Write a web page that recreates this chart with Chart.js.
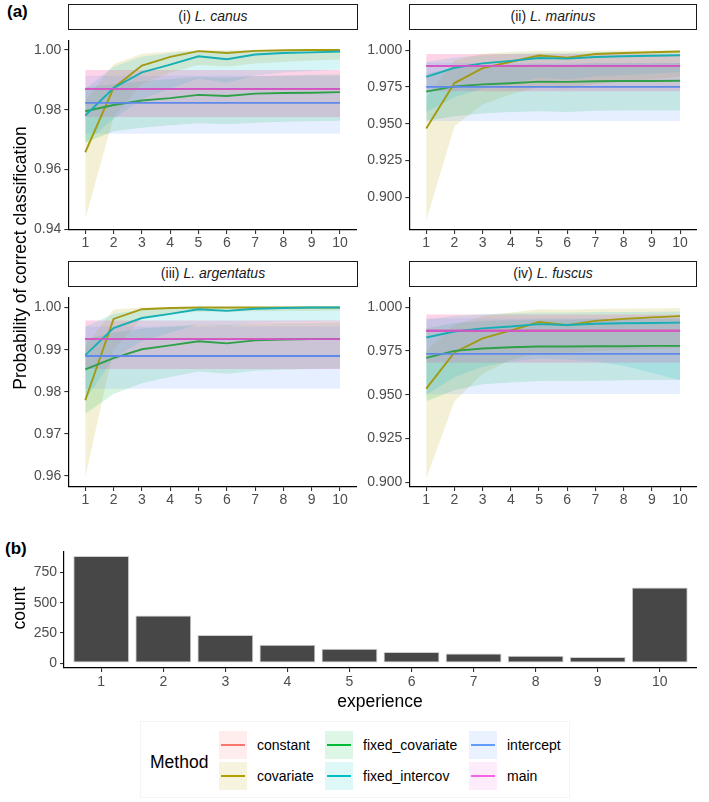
<!DOCTYPE html>
<html>
<head>
<meta charset="utf-8">
<script src="https://cdn.jsdelivr.net/npm/chart.js@4.4.0/dist/chart.umd.min.js"></script>
<style>
  body { margin: 0; background: #fff; font-family: "Liberation Sans", Arial, sans-serif; }
  #fig { position: relative; width: 709px; height: 802px; overflow: hidden; background: #fff; }
  canvas { position: absolute; }
  .txt { position: absolute; white-space: nowrap; color: #000; }
  .strip { position: absolute; box-sizing: border-box; border: 1.3px solid #1a1a1a; background: #fff;
           font-size: 14px; color: #1a1a1a; text-align: center; line-height: 23px; }
  .tag { position: absolute; font-weight: bold; font-size: 17px; }
  .rot { transform: translate(-50%, -50%) rotate(-90deg); font-size: 17.5px; }
  #legend { position: absolute; left: 140px; top: 721px; width: 430px; height: 77px;
            background: #fff; border: 1px solid #f4f4f4; box-sizing: border-box; }
  .key { position: absolute; width: 28px; height: 28px; }
  .key i { position: absolute; left: 2px; right: 2px; top: 13px; height: 2px; }
  .lab { position: absolute; font-size: 14px; color: #000; line-height: 16px; }
</style>
</head>
<body>
<div id="fig">
  <div class="tag" style="left:7px;top:2px;">(a)</div>
  <div class="tag" style="left:5px;top:539px;">(b)</div>

  <div class="strip" style="left:68px;top:4px;width:290px;height:26px;">(i) <i>L. canus</i></div>
  <div class="strip" style="left:409px;top:4px;width:288px;height:26px;">(ii) <i>L. marinus</i></div>
  <div class="strip" style="left:68px;top:261px;width:290px;height:26px;">(iii) <i>L. argentatus</i></div>
  <div class="strip" style="left:409px;top:261px;width:288px;height:26px;">(iv) <i>L. fuscus</i></div>

  <canvas id="p1" width="343" height="227" style="left:14px;top:29px;"></canvas>
  <canvas id="p2" width="342" height="227" style="left:355px;top:29px;"></canvas>
  <canvas id="p3" width="343" height="227" style="left:14px;top:286px;"></canvas>
  <canvas id="p4" width="342" height="227" style="left:355px;top:286px;"></canvas>
  <canvas id="bars" width="697" height="152" style="left:0px;top:540px;"></canvas>

  <div class="txt rot" style="left:20px;top:258px;">Probability of correct classification</div>
  <div class="txt rot" style="left:19px;top:608px;">count</div>
  <div class="txt" style="left:380px;top:701px;transform:translate(-50%,-50%);font-size:17.5px;">experience</div>

  <div id="legend"></div>
</div>

<script>
// x categories and methods
const experience = [1, 2, 3, 4, 5, 6, 7, 8, 9, 10];
const methods = ["constant", "covariate", "fixed_covariate", "fixed_intercov", "intercept", "main"];
const methodColors = ["#F8766D", "#B79F00", "#00BA38", "#00BFC4", "#619CFF", "#F564E3"];
// lines inside the panels read a little darker than the legend keys
const panelLineColors = ["#E0675F", "#A39A12", "#2FA048", "#17AEB4", "#5E88EA", "#D253CC"];

// tick labels
const ticksCanus = [0.94, 0.96, 0.98, 1.00];
const ticksMarinus = [0.900, 0.925, 0.950, 0.975, 1.000];
const ticksArgentatus = [0.96, 0.97, 0.98, 0.99, 1.00];
const ticksFuscus = [0.900, 0.925, 0.950, 0.975, 1.000];
const countTicks = [0, 250, 500, 750];

// (b) number of birds per experience level
const counts = [886, 395, 232, 152, 120, 93, 80, 61, 50, 625];

// flat models: [estimate, lower, upper]
const canusConstant = [0.9870, 0.9776, 0.9933];
const canusIntercept = [0.9823, 0.9720, 0.9914];
const canusMain = [0.9870, 0.9776, 0.9933];
const marinusConstant = [0.9893, 0.9720, 0.9974];
const marinusIntercept = [0.9750, 0.9519, 0.9915];
const marinusMain = [0.9893, 0.9720, 0.9974];
const argentatusConstant = [0.9925, 0.9854, 0.9969];
const argentatusIntercept = [0.9885, 0.9807, 0.9955];
const argentatusMain = [0.9925, 0.9854, 0.9969];
const fuscusConstant = [0.9865, 0.9683, 0.9958];
const fuscusIntercept = [0.9733, 0.9503, 0.9935];
const fuscusMain = [0.9865, 0.9683, 0.9958];

// (i) L. canus
const canusCov   = [0.9658, 0.9873, 0.9948, 0.9977, 0.9996, 0.9990, 0.9997, 0.9999, 1.0000, 1.0000];
const canusCovLo = [0.9435, 0.9775, 0.9885, 0.9925, 0.9950, 0.9945, 0.9955, 0.9960, 0.9965, 0.9968];
const canusCovHi = [0.9830, 0.9952, 0.9987, 0.9995, 1.0000, 0.9999, 1.0000, 1.0000, 1.0000, 1.0000];
const canusFixCov   = [0.9795, 0.9816, 0.9831, 0.9839, 0.9850, 0.9846, 0.9854, 0.9856, 0.9857, 0.9859];
const canusFixCovLo = [0.9690, 0.9728, 0.9740, 0.9748, 0.9755, 0.9752, 0.9757, 0.9760, 0.9762, 0.9763];
const canusFixCovHi = [0.9875, 0.9885, 0.9895, 0.9903, 0.9910, 0.9907, 0.9912, 0.9915, 0.9917, 0.9918];
const canusFixInt   = [0.9781, 0.9873, 0.9925, 0.9951, 0.9979, 0.9969, 0.9985, 0.9990, 0.9992, 0.9995];
const canusFixIntLo = [0.9690, 0.9770, 0.9835, 0.9870, 0.9905, 0.9890, 0.9915, 0.9925, 0.9930, 0.9935];
const canusFixIntHi = [0.9870, 0.9945, 0.9978, 0.9990, 0.9998, 0.9996, 0.9999, 1.0000, 1.0000, 1.0000];

// (ii) L. marinus
const marinusCov   = [0.9468, 0.9776, 0.9878, 0.9921, 0.9963, 0.9949, 0.9974, 0.9980, 0.9985, 0.9991];
const marinusCovLo = [0.8842, 0.9483, 0.9630, 0.9700, 0.9750, 0.9740, 0.9770, 0.9790, 0.9800, 0.9820];
const marinusCovHi = [0.9680, 0.9930, 0.9975, 0.9988, 0.9995, 0.9993, 0.9996, 0.9997, 0.9998, 0.9999];
const marinusFixCov   = [0.9718, 0.9754, 0.9767, 0.9775, 0.9786, 0.9784, 0.9788, 0.9790, 0.9790, 0.9792];
const marinusFixCovLo = [0.9520, 0.9550, 0.9570, 0.9580, 0.9585, 0.9580, 0.9588, 0.9590, 0.9590, 0.9590];
const marinusFixCovHi = [0.9840, 0.9880, 0.9890, 0.9900, 0.9905, 0.9900, 0.9910, 0.9910, 0.9910, 0.9912];
const marinusFixInt   = [0.9818, 0.9880, 0.9910, 0.9927, 0.9946, 0.9942, 0.9953, 0.9958, 0.9962, 0.9965];
const marinusFixIntLo = [0.9580, 0.9680, 0.9740, 0.9770, 0.9810, 0.9800, 0.9820, 0.9830, 0.9840, 0.9850];
const marinusFixIntHi = [0.9920, 0.9950, 0.9965, 0.9975, 0.9980, 0.9980, 0.9985, 0.9987, 0.9988, 0.9990];

// (iii) L. argentatus
const argentatusCov   = [0.9780, 0.9973, 0.9996, 0.9999, 1.0000, 1.0000, 1.0000, 1.0000, 1.0000, 1.0000];
const argentatusCovLo = [0.9598, 0.9900, 0.9975, 0.9985, 0.9990, 0.9990, 0.9991, 0.9992, 0.9992, 0.9993];
const argentatusCovHi = [0.9910, 0.9995, 1.0000, 1.0000, 1.0000, 1.0000, 1.0000, 1.0000, 1.0000, 1.0000];
const argentatusFixCov   = [0.9853, 0.9880, 0.9901, 0.9910, 0.9920, 0.9915, 0.9922, 0.9924, 0.9925, 0.9925];
const argentatusFixCovLo = [0.9748, 0.9795, 0.9820, 0.9835, 0.9848, 0.9843, 0.9850, 0.9852, 0.9854, 0.9855];
const argentatusFixCovHi = [0.9925, 0.9940, 0.9950, 0.9955, 0.9960, 0.9958, 0.9962, 0.9963, 0.9964, 0.9965];
const argentatusFixInt   = [0.9887, 0.9951, 0.9975, 0.9985, 0.9996, 0.9992, 0.9997, 0.9999, 1.0000, 1.0000];
const argentatusFixIntLo = [0.9780, 0.9880, 0.9920, 0.9940, 0.9960, 0.9955, 0.9963, 0.9965, 0.9966, 0.9967];
const argentatusFixIntHi = [0.9955, 0.9985, 0.9995, 0.9998, 1.0000, 1.0000, 1.0000, 1.0000, 1.0000, 1.0000];

// (iv) L. fuscus
const fuscusCov   = [0.9534, 0.9741, 0.9822, 0.9867, 0.9915, 0.9897, 0.9922, 0.9933, 0.9942, 0.9949];
const fuscusCovLo = [0.9020, 0.9462, 0.9620, 0.9700, 0.9740, 0.9740, 0.9750, 0.9755, 0.9760, 0.9765];
const fuscusCovHi = [0.9750, 0.9900, 0.9950, 0.9970, 0.9988, 0.9985, 0.9990, 0.9992, 0.9993, 0.9995];
const fuscusFixCov   = [0.9710, 0.9750, 0.9764, 0.9771, 0.9775, 0.9775, 0.9777, 0.9777, 0.9779, 0.9779];
const fuscusFixCovLo = [0.9462, 0.9525, 0.9560, 0.9570, 0.9578, 0.9578, 0.9580, 0.9582, 0.9584, 0.9585];
const fuscusFixCovHi = [0.9880, 0.9910, 0.9920, 0.9925, 0.9930, 0.9930, 0.9932, 0.9933, 0.9934, 0.9935];
const fuscusFixInt   = [0.9827, 0.9861, 0.9879, 0.9890, 0.9903, 0.9898, 0.9905, 0.9908, 0.9910, 0.9912];
const fuscusFixIntLo = [0.9500, 0.9600, 0.9660, 0.9690, 0.9705, 0.9700, 0.9690, 0.9665, 0.9625, 0.9583];
const fuscusFixIntHi = [0.9930, 0.9950, 0.9960, 0.9965, 0.9970, 0.9970, 0.9972, 0.9973, 0.9974, 0.9975];

Chart.defaults.font.family = '"Liberation Sans", Arial, sans-serif';
Chart.defaults.font.size = 14;
Chart.defaults.color = "#4D4D4D";

function rgba(hex, a) {
  const n = parseInt(hex.slice(1), 16);
  return `rgba(${n >> 16}, ${(n >> 8) & 255}, ${n & 255}, ${a})`;
}
function pts(arr) { return experience.map((x, i) => ({ x, y: arr[i] })); }
function flat(m) {
  return {
    line: experience.map(() => m[0]),
    lo: experience.map(() => m[1]),
    hi: experience.map(() => m[2])
  };
}

function axisStyle(extra) {
  return Object.assign({
    grid: { drawOnChartArea: false, drawTicks: true, tickLength: 4, color: "#333333", lineWidth: 1.1, offset: false },
    border: { display: true, color: "#000000", width: 1.2 }
  }, extra);
}

function drawPanel(id, series, yMin, yMax, yTicks, decimals, yw) {
  const datasets = [];
  series.forEach((s, i) => {
    const loIdx = datasets.length;
    datasets.push({ data: pts(s.lo), borderColor: "rgba(0,0,0,0)", borderWidth: 1, pointRadius: 0, fill: false, order: 100 - i });
    datasets.push({ data: pts(s.hi), borderColor: "rgba(0,0,0,0)", borderWidth: 1, pointRadius: 0,
                    fill: loIdx, backgroundColor: rgba(methodColors[i], 0.16), order: 100 - i });
  });
  series.forEach((s, i) => {
    datasets.push({ data: pts(s.line), borderColor: panelLineColors[i], borderWidth: 1.9, pointRadius: 0,
                    fill: false, tension: 0, order: 50 - i });
  });

  new Chart(document.getElementById(id), {
    type: "line",
    data: { datasets },
    options: {
      responsive: false,
      animation: false,
      layout: { padding: 0 },
      plugins: { legend: { display: false }, tooltip: { enabled: false } },
      scales: {
        x: axisStyle({
          type: "linear", min: 0.4, max: 10.6,
          afterBuildTicks: s => { s.ticks = experience.map(v => ({ value: v })); },
          afterFit: s => { s.height = 26; },
          ticks: { padding: 1, callback: v => String(v) }
        }),
        y: axisStyle({
          type: "linear", min: yMin, max: yMax,
          afterBuildTicks: s => { s.ticks = yTicks.map(v => ({ value: v })); },
          afterFit: s => { s.width = yw; },
          ticks: { padding: 3, callback: v => v.toFixed(decimals) }
        })
      }
    }
  });
}

drawPanel("p1", [flat(canusConstant),
  { line: canusCov, lo: canusCovLo, hi: canusCovHi },
  { line: canusFixCov, lo: canusFixCovLo, hi: canusFixCovHi },
  { line: canusFixInt, lo: canusFixIntLo, hi: canusFixIntHi },
  flat(canusIntercept), flat(canusMain)], 0.9398, 1.0032, ticksCanus, 2, 54.3);

drawPanel("p2", [flat(marinusConstant),
  { line: marinusCov, lo: marinusCovLo, hi: marinusCovHi },
  { line: marinusFixCov, lo: marinusFixCovLo, hi: marinusFixCovHi },
  { line: marinusFixInt, lo: marinusFixIntLo, hi: marinusFixIntHi },
  flat(marinusIntercept), flat(marinusMain)], 0.8778, 1.0066, ticksMarinus, 3, 54.3);

drawPanel("p3", [flat(argentatusConstant),
  { line: argentatusCov, lo: argentatusCovLo, hi: argentatusCovHi },
  { line: argentatusFixCov, lo: argentatusFixCovLo, hi: argentatusFixCovHi },
  { line: argentatusFixInt, lo: argentatusFixIntLo, hi: argentatusFixIntHi },
  flat(argentatusIntercept), flat(argentatusMain)], 0.9574, 1.0024, ticksArgentatus, 2, 54.3);

drawPanel("p4", [flat(fuscusConstant),
  { line: fuscusCov, lo: fuscusCovLo, hi: fuscusCovHi },
  { line: fuscusFixCov, lo: fuscusFixCovLo, hi: fuscusFixCovHi },
  { line: fuscusFixInt, lo: fuscusFixIntLo, hi: fuscusFixIntHi },
  flat(fuscusIntercept), flat(fuscusMain)], 0.8972, 1.0056, ticksFuscus, 3, 54.3);

// (b) bar chart
new Chart(document.getElementById("bars"), {
  type: "bar",
  data: {
    datasets: [{
      data: experience.map((x, i) => ({ x, y: counts[i] })),
      backgroundColor: "#474747",
      borderColor: "#cfcfcf",
      borderWidth: 1,
      borderSkipped: false,
      categoryPercentage: 0.9,
      barPercentage: 1
    }]
  },
  options: {
    responsive: false,
    animation: false,
    layout: { padding: { top: 8, left: 0, right: 0, bottom: 0 } },
    plugins: { legend: { display: false }, tooltip: { enabled: false } },
    scales: {
      x: axisStyle({
        type: "linear", min: 0.4, max: 10.6, offset: false,
        afterBuildTicks: s => { s.ticks = experience.map(v => ({ value: v })); },
        afterFit: s => { s.height = 24; },
        ticks: { padding: 1.5, callback: v => String(v) }
      }),
      y: axisStyle({
        type: "linear", min: -40, max: 924,
        afterBuildTicks: s => { s.ticks = countTicks.map(v => ({ value: v })); },
        afterFit: s => { s.width = 64; },
        ticks: { padding: 3, callback: v => String(v) }
      })
    }
  }
});

// legend (two rows, column-major like the original)
const legendCols = [78, 184, 328];
const legendRows = [9, 40];
const legend = document.getElementById("legend");
const title = document.createElement("div");
title.className = "lab";
title.style.cssText = "left:9px;top:30px;font-size:17.5px;line-height:20px;";
title.textContent = "Method";
legend.appendChild(title);
methods.forEach((m, i) => {
  const col = legendCols[Math.floor(i / 2)];
  const row = legendRows[i % 2];
  const key = document.createElement("div");
  key.className = "key";
  key.style.left = col + "px";
  key.style.top = row + "px";
  key.style.background = rgba(methodColors[i], 0.13);
  const ln = document.createElement("i");
  ln.style.background = methodColors[i];
  key.appendChild(ln);
  legend.appendChild(key);
  const lab = document.createElement("div");
  lab.className = "lab";
  lab.style.left = (col + 38) + "px";
  lab.style.top = (row + 6) + "px";
  lab.textContent = m;
  legend.appendChild(lab);
});
</script>
</body>
</html>
